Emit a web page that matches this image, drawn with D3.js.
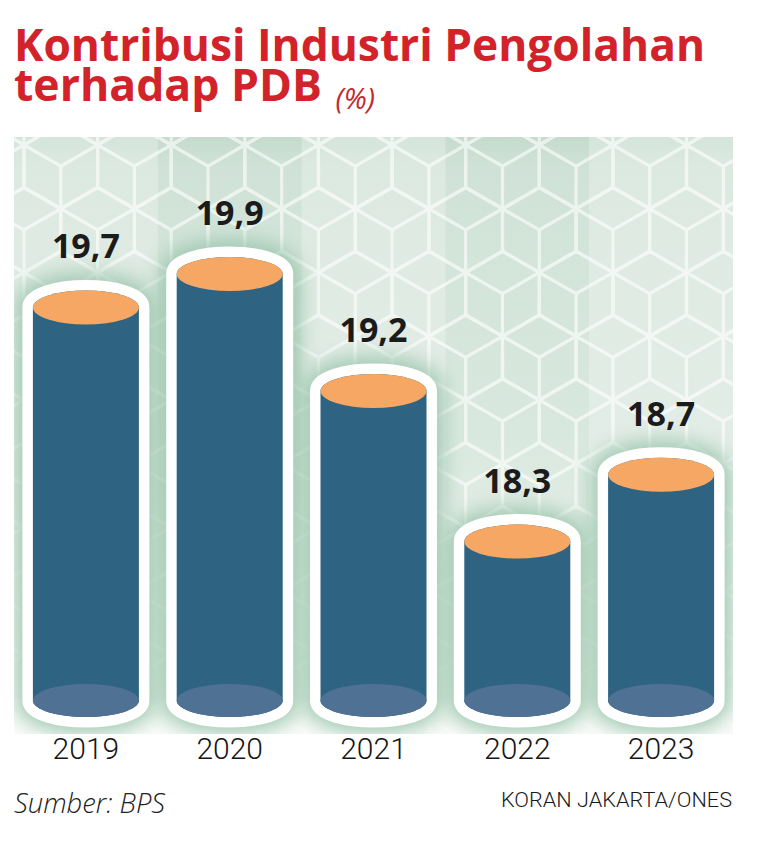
<!DOCTYPE html>
<html><head><meta charset="utf-8">
<script src="https://cdn.jsdelivr.net/npm/d3@7"></script>
<style>html,body{margin:0;padding:0;background:#fff;} svg{display:block}</style>
</head><body>
<svg id="chart" width="757" height="848"></svg>
<script>
// ---- data ----
const years = ["2019", "2020", "2021", "2022", "2023"];
const values = [19.7, 19.9, 19.2, 18.3, 18.7];
const titleLines = ["Kontribusi Industri Pengolahan", "terhadap PDB"];
const unitLabel = "(%)";
const sourceLabel = "Sumber: BPS";
const creditLabel = "KORAN JAKARTA/ONES";

// ---- layout ----
const svg = d3.select("#chart");
const panel = {x0: 14, x1: 733, y0: 137, y1: 734};
const x = d3.scaleBand().domain(years).range([panel.x0, panel.x1]).padding(0);
const y = d3.scaleLinear().domain([17.35, 19.9]).range([700.5, 274]);
const fmt = d3.formatLocale({decimal: ",", thousands: ".", grouping: [3], currency: ["Rp", ""]}).format(".1f");
const rx = 53, ryTop = 17, ryBot = 16.5;
const baseY = y(17.35);
const data = years.map((yr, i) => ({year: yr, value: values[i], i}));

const defs = svg.append("defs");
function grad(id, stops) {
  const g = defs.append("linearGradient").attr("id", id).attr("x1", 0).attr("y1", 0).attr("x2", 0).attr("y2", 1);
  stops.forEach(s => g.append("stop").attr("offset", s[0]).attr("stop-color", s[1]));
}
grad("colDark", [[0, "#c4dbcd"], [0.05, "#d0e2d7"], [0.5, "#d9e8de"], [0.85, "#edf3ef"], [1, "#fbfcfb"]]);
grad("colLight", [[0, "#d5e5db"], [0.05, "#dce9e1"], [0.5, "#e3ede7"], [0.85, "#f0f5f1"], [1, "#fbfcfb"]]);
defs.append("clipPath").attr("id", "panelClip").append("rect")
  .attr("x", panel.x0).attr("y", panel.y0).attr("width", panel.x1 - panel.x0).attr("height", panel.y1 - panel.y0);
const f = defs.append("filter").attr("id", "glow").attr("x", "-60%").attr("y", "-60%").attr("width", "220%").attr("height", "220%");
f.append("feGaussianBlur").attr("stdDeviation", 10);

// ---- background panel ----
const bg = svg.append("g").attr("clip-path", "url(#panelClip)");
bg.selectAll("rect.col").data(data).join("rect").attr("class", "col")
  .attr("x", d => x(d.year)).attr("y", panel.y0)
  .attr("width", x.bandwidth() + 0.5).attr("height", panel.y1 - panel.y0)
  .attr("fill", d => d.i % 2 ? "url(#colDark)" : "url(#colLight)");

// cube pattern
const s = 42.5, hw = s * Math.sqrt(3) / 2;
const centers = [];
for (let r = 0, cy = panel.y0 - s + 8; cy < panel.y1 + s; r++, cy += 1.5 * s) {
  for (let cx = panel.x0 - 2 * hw + (r % 2 ? hw : 0) + 10; cx < panel.x1 + 2 * hw; cx += 2 * hw) centers.push([cx, cy]);
}
const hexPath = ([cx, cy]) =>
  `M${cx},${cy - s}L${cx + hw},${cy - s / 2}L${cx + hw},${cy + s / 2}L${cx},${cy + s}L${cx - hw},${cy + s / 2}L${cx - hw},${cy - s / 2}Z` +
  `M${cx - hw},${cy - s / 2}L${cx},${cy}L${cx + hw},${cy - s / 2}M${cx},${cy}L${cx},${cy + s}`;
bg.append("g").attr("opacity", 0.62)
  .selectAll("path").data(centers).join("path")
  .attr("d", hexPath).attr("fill", "none").attr("stroke", "#ffffff").attr("stroke-width", 3.2);

// ---- cylinders ----
const cxOf = d => x(d.year) + x.bandwidth() / 2;
const silhouette = d => {
  const cx = cxOf(d), yt = y(d.value);
  return `M${cx - rx},${yt}A${rx},${ryTop} 0 0 1 ${cx + rx},${yt}L${cx + rx},${baseY}A${rx},${ryBot} 0 0 1 ${cx - rx},${baseY}Z`;
};
const cyl = svg.append("g");
cyl.selectAll("path.glow").data(data).join("path").attr("class", "glow")
  .attr("d", silhouette).attr("fill", "#98c4aa").attr("stroke", "#98c4aa")
  .attr("stroke-width", 34).attr("stroke-linejoin", "round").attr("opacity", 0.9)
  .attr("filter", "url(#glow)").attr("clip-path", "url(#panelClip)");
cyl.selectAll("path.outline").data(data).join("path").attr("class", "outline")
  .attr("d", silhouette).attr("fill", "#ffffff").attr("stroke", "#ffffff")
  .attr("stroke-width", 21).attr("stroke-linejoin", "round");
cyl.selectAll("path.body").data(data).join("path").attr("class", "body")
  .attr("d", silhouette).attr("fill", "#2e6482");
cyl.selectAll("ellipse.bottom").data(data).join("ellipse").attr("class", "bottom")
  .attr("cx", cxOf).attr("cy", baseY).attr("rx", rx).attr("ry", ryBot).attr("fill", "#4f7193");
cyl.selectAll("ellipse.top").data(data).join("ellipse").attr("class", "top")
  .attr("cx", cxOf).attr("cy", d => y(d.value)).attr("rx", rx).attr("ry", ryTop).attr("fill", "#f6a763");

// value labels
svg.append("g").selectAll("text").data(data).join("text")
  .attr("x", cxOf).attr("y", d => y(d.value) - 49)
  .attr("text-anchor", "middle")
  .attr("font-family", "'Open Sans', sans-serif").attr("font-weight", 700).attr("font-size", 34)
  .attr("fill", "#1b1b1b").text(d => fmt(d.value));

// year labels
svg.append("g").selectAll("text").data(data).join("text")
  .attr("x", cxOf).attr("y", 759).attr("text-anchor", "middle")
  .attr("font-family", "Roboto, 'Liberation Sans', sans-serif").attr("font-weight", 300).attr("font-size", 30)
  .attr("fill", "#151515").text(d => d.year);

// ---- title (one text, two lines) ----
const title = svg.append("text")
  .attr("font-family", "'Open Sans', sans-serif").attr("font-weight", 700).attr("font-size", 44)
  .attr("fill", "#d2232a");
const tWidths = [691, 308], tBase = [61, 101];
titleLines.forEach((line, i) => {
  title.append("tspan").attr("x", 14).attr("y", tBase[i])
    .attr("textLength", tWidths[i]).attr("lengthAdjust", "spacingAndGlyphs").text(line);
});
title.append("tspan").attr("x", 335).attr("y", 109)
  .attr("font-style", "italic").attr("font-weight", 400).attr("font-size", 29)
  .attr("fill", "#c02a30").text(" " + unitLabel).attr("dx", -7);

// ---- footer ----
function fit(sel, w) {
  const L = sel.node().getComputedTextLength();
  if (Math.abs(L - w) / w > 0.01) sel.attr("textLength", w).attr("lengthAdjust", "spacingAndGlyphs");
}
const src = svg.append("text").attr("x", 14).attr("y", 813)
  .attr("font-family", "'Open Sans', sans-serif").attr("font-style", "italic").attr("font-weight", 300)
  .attr("font-size", 28).attr("fill", "#222222").text(sourceLabel);
fit(src, 151);
const cr = svg.append("text").attr("x", 732).attr("y", 807).attr("text-anchor", "end")
  .attr("font-family", "Roboto, 'Liberation Sans', sans-serif").attr("font-weight", 300).attr("font-size", 21)
  .attr("fill", "#1a1a1a").text(creditLabel);
fit(cr, 231);
</script>
</body></html>
